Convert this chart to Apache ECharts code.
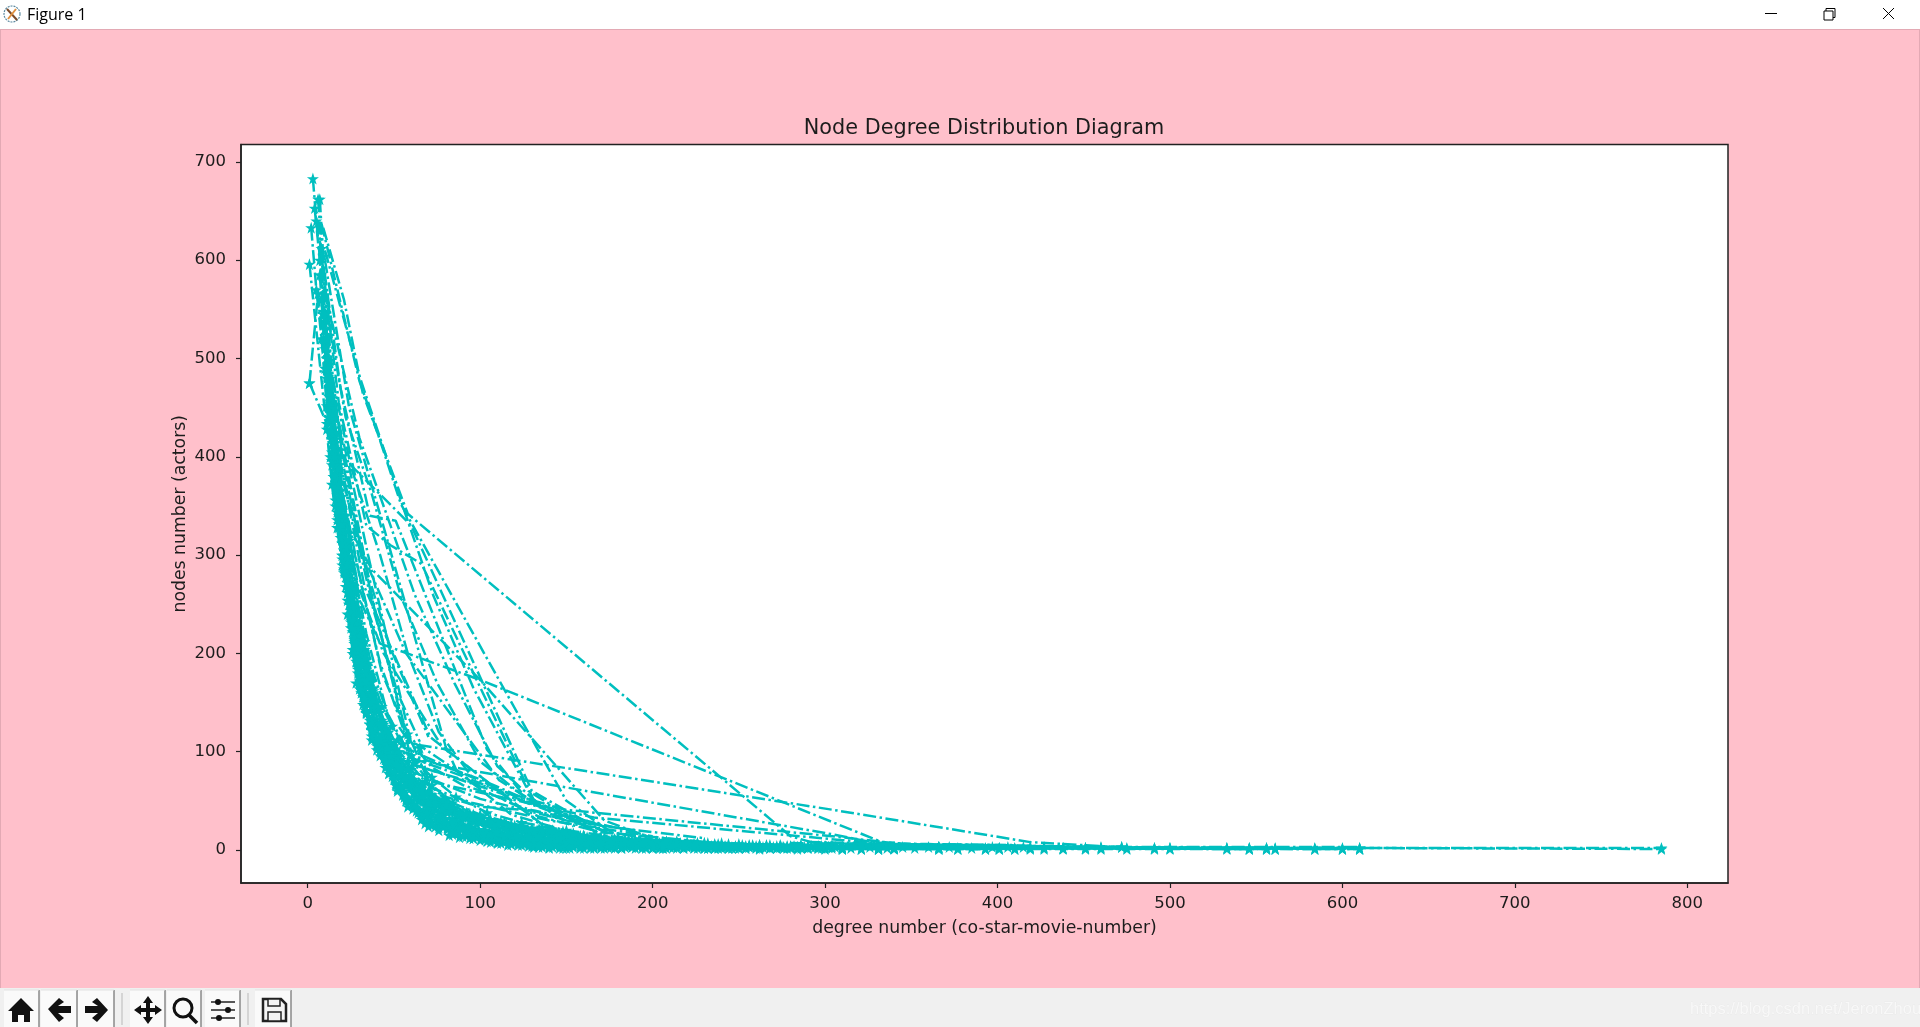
<!DOCTYPE html>
<html><head><meta charset="utf-8">
<style>html,body{margin:0;padding:0;background:#FFC0CB}#c{width:1920px;height:1027px}</style>
<script src="https://cdn.jsdelivr.net/npm/echarts@6/dist/echarts.min.js"></script>
</head><body><div id="c"></div>
<script>
const chartTitle = "Node Degree Distribution Diagram";
const xName = "degree number (co-star-movie-number)";
const yName = "nodes number (actors)";
const xTicks = [0,100,200,300,400,500,600,700,800];
const yTicks = [0,100,200,300,400,500,600,700];

// runs drawn with star markers
const r01=[[3,683],[5,640],[8,585],[11,500],[13,445],[15,398],[18,352],[20,318],[23,276],[26,238],[28,205],[32,172],[34,150],[38,122],[42,101],[47,82],[53,62],[59,49],[67,36],[76,27],[85,20],[98,15],[112,10],[128,7],[146,5],[170,4],[196,3],[230,2],[268,2],[310,1],[366,1]];
const r02=[[1,475],[6,566],[12,462],[14,405],[18,340],[21,282],[25,240],[28,196],[32,165],[36,128],[40,106],[46,86],[51,66],[57,52],[64,38],[72,28],[81,21],[92,14],[106,11],[121,8],[140,5],[162,4],[188,3],[218,3],[250,2],[290,2],[331,1]];
const r03=[[1,475],[11,434],[13,400],[16,356],[20,300],[23,262],[27,216],[30,178],[33,146],[38,118],[42,100],[47,78],[52,60],[58,44],[66,31],[74,24],[84,18],[96,12],[110,8],[126,6],[148,4],[174,3],[204,2],[240,2],[276,2],[321,1]];
const r04=[[1,596],[11,428],[14,372],[17,328],[20,290],[24,250],[27,212],[31,180],[35,150],[40,122],[45,98],[50,78],[56,60],[63,44],[71,33],[81,24],[93,17],[105,12],[119,9],[136,6],[154,5],[178,3],[210,3],[246,2],[300,1]];
const r05=[[2,633],[5,570],[8,520],[11,452],[14,396],[17,344],[21,300],[24,262],[28,224],[32,188],[36,156],[40,130],[45,106],[51,85],[57,66],[64,50],[72,38],[81,28],[92,21],[104,16],[118,11],[134,8],[152,6],[176,4],[204,3],[238,2],[284,1],[340,2],[393,1]];
const r06=[[6,662],[8,612],[10,565],[13,498],[15,440],[18,388],[21,336],[25,288],[29,242],[33,204],[37,172],[42,140],[47,112],[53,90],[59,70],[66,54],[74,41],[84,31],[95,23],[108,17],[122,12],[138,9],[158,6],[182,4],[212,3],[254,2],[310,2],[401,1]];
const r07=[[7,662],[9,604],[11,540],[13,474],[16,418],[19,366],[22,316],[26,272],[30,230],[34,194],[38,160],[43,132],[48,108],[54,84],[60,66],[68,50],[77,38],[87,28],[99,20],[112,15],[128,10],[144,7],[166,5],[192,4],[224,3],[262,2],[331,1],[410,1]];
const r08=[[4,653],[7,600],[9,548],[12,482],[14,424],[17,372],[20,322],[23,280],[27,236],[31,198],[35,166],[39,140],[44,114],[50,90],[56,72],[63,54],[70,42],[79,32],[90,24],[102,18],[115,13],[131,9],[150,7],[172,5],[200,3],[232,2],[272,2],[377,1],[472,3]];
const r17=[[7,585],[10,510],[13,450],[17,395],[21,340],[24,296],[27,250],[31,200],[36,150],[42,112],[50,90],[60,64],[72,46],[89,32],[110,22],[134,14],[160,10],[190,7],[230,5],[290,3],[366,2]];
const r18=[[10,545],[13,480],[16,425],[20,360],[24,315],[28,262],[33,212],[38,164],[44,128],[52,96],[61,72],[72,52],[85,38],[100,28],[118,19],[140,12],[165,8],[196,6],[244,4],[310,2]];
const r19=[[11,520],[14,460],[18,400],[22,340],[26,290],[30,240],[35,190],[40,150],[46,118],[54,92],[64,68],[76,48],[90,33],[108,24],[130,16],[154,11],[180,7],[220,5],[275,3],[340,2]];
const r20=[[9,545],[12,476],[15,410],[19,350],[23,298],[27,252],[32,212],[37,178],[43,146],[49,126],[55,108],[62,88],[72,66],[84,48],[100,36],[125,24],[150,16],[180,9],[220,5],[280,3],[340,2],[546,1]];
const r21=[[10,530],[13,452],[16,392],[20,332],[24,276],[28,232],[33,194],[38,162],[44,130],[50,106],[58,90],[68,70],[80,52],[96,36],[115,27],[140,19],[170,12],[206,7],[256,4],[331,2],[556,1]];
const r22=[[8,560],[11,480],[14,418],[18,358],[21,305],[25,258],[29,216],[34,180],[39,150],[45,122],[52,100],[60,82],[70,60],[82,44],[100,31],[120,25],[148,16],[176,10],[214,6],[266,4],[340,2],[419,3],[561,1]];
const r23=[[12,490],[15,420],[18,362],[22,308],[25,262],[30,218],[34,184],[39,152],[45,124],[51,98],[58,82],[66,64],[76,48],[90,37],[108,28],[130,20],[158,14],[190,9],[236,5],[290,3],[366,3],[438,2],[584,1]];
const r24=[[9,520],[12,440],[15,380],[18,332],[22,282],[26,240],[30,204],[35,170],[40,142],[46,116],[52,94],[60,76],[70,58],[84,42],[100,32],[122,22],[150,15],[186,10],[226,7],[278,4],[340,3],[451,2],[600,1]];
const r25=[[13,470],[16,400],[19,345],[23,292],[27,246],[31,208],[36,176],[41,146],[47,120],[53,100],[60,96],[72,74],[86,54],[104,38],[124,28],[150,20],[180,13],[214,9],[266,5],[331,3],[419,2],[500,2],[610,1]];
const r26=[[10,490],[13,425],[16,368],[20,312],[24,268],[28,226],[32,190],[37,158],[42,128],[48,104],[54,84],[66,66],[78,50],[94,37],[112,27],[133,20],[158,14],[188,10],[230,7],[286,4],[340,3],[438,2],[533,2],[610,2],[785,1]];
const r27=[[12,450],[14,392],[17,336],[21,286],[25,244],[29,206],[33,172],[38,144],[43,118],[49,96],[55,78],[62,66],[74,52],[92,38],[114,28],[140,20],[166,14],[196,10],[240,7],[300,4],[366,3],[451,2],[546,2]];
const r28=[[15,380],[19,325],[23,272],[27,226],[31,190],[34,158],[38,134],[43,110],[49,88],[55,72],[62,60],[70,50],[81,40],[96,32],[116,24],[138,18],[162,13],[190,9],[226,6],[274,4],[331,2],[401,2],[460,3],[556,2]];
const r29=[[16,350],[20,296],[24,250],[27,214],[30,176],[34,142],[38,120],[43,98],[48,80],[54,64],[60,50],[67,40],[76,33],[88,26],[103,20],[120,15],[142,11],[168,8],[196,6],[234,4],[280,3],[340,2],[427,3],[491,2]];
const r30=[[18,328],[21,284],[25,234],[29,190],[31,160],[34,139],[37,112],[44,93],[49,75],[56,54],[61,42],[68,27],[76,23],[85,17],[95,14],[103,11],[118,6],[131,3],[140,2],[150,2],[166,2],[182,2],[200,2]];
const r31=[[19,318],[22,268],[26,222],[29,184],[33,150],[37,122],[40,102],[45,84],[51,68],[55,56],[61,46],[68,35],[75,30],[83,24],[92,18],[102,14],[112,10],[122,7],[134,5],[148,4],[164,3],[182,3],[206,2],[236,2],[262,1]];
const r32=[[20,300],[23,254],[27,210],[30,172],[34,140],[37,116],[42,96],[47,78],[52,62],[57,50],[63,40],[70,33],[78,26],[87,21],[96,16],[107,13],[117,9],[130,7],[143,5],[158,4],[176,3],[196,3],[218,2],[244,2],[284,2]];
const r33=[[20,312],[23,262],[26,226],[29,180],[32,156],[36,128],[40,108],[46,90],[50,72],[56,58],[62,46],[69,38],[76,31],[85,25],[94,20],[104,16],[114,12],[125,9],[137,7],[151,6],[167,5],[185,4],[205,3],[227,3],[254,3],[296,2]];
const r34=[[22,278],[25,232],[28,192],[32,158],[36,132],[40,112],[45,94],[50,80],[56,66],[62,54],[69,44],[76,36],[84,30],[93,25],[102,20],[112,17],[123,13],[135,11],[148,8],[162,7],[178,5],[194,4],[214,4],[236,3],[262,3],[300,3]];
const r35=[[23,240],[26,204],[30,168],[34,142],[38,120],[43,104],[48,90],[54,76],[60,66],[66,55],[73,46],[81,38],[89,32],[98,27],[108,22],[119,18],[130,15],[142,12],[155,10],[168,8],[183,7],[199,6],[216,5],[240,4],[268,3],[310,3]];
const r36=[[25,226],[29,186],[33,154],[37,130],[41,114],[46,100],[51,88],[57,74],[64,60],[71,48],[78,42],[86,36],[95,30],[104,26],[114,22],[125,19],[136,16],[148,13],[160,11],[174,10],[188,9],[204,7],[224,6],[252,5],[290,4],[331,3]];
const r37=[[26,200],[30,164],[34,140],[38,122],[43,108],[48,96],[53,84],[60,70],[67,58],[74,48],[82,40],[90,34],[99,29],[108,25],[118,22],[128,19],[140,16],[152,14],[165,12],[178,11],[192,10],[208,8],[230,7],[258,5],[296,4],[340,3]];
const r38=[[28,170],[32,148],[36,128],[41,112],[46,104],[52,112],[58,118],[65,104],[72,56],[80,46],[88,38],[96,33],[106,28],[116,24],[126,21],[136,18],[146,16],[158,14],[170,12],[184,10],[198,8],[216,7],[236,6],[262,5],[304,4],[366,3]];
const t01=[[82,15],[88,13],[94,12],[100,10],[106,8],[112,7],[118,6],[124,5],[130,4],[136,3],[142,3],[148,2],[154,3],[160,2],[166,3],[172,2],[178,2],[184,3],[190,2],[196,2],[202,3],[208,2],[214,2],[220,3],[226,2],[232,2],[238,3],[244,2],[250,2],[256,3],[262,2],[268,2],[274,3],[280,2],[286,2],[292,3],[298,2],[304,2],[310,1],[321,1],[331,1],[340,1],[366,1],[377,1],[393,1],[401,1],[410,1],[419,1],[427,1],[438,1],[451,1],[460,1],[475,1],[491,1],[500,1],[533,1],[546,1],[556,1],[561,1],[584,1],[600,1],[610,1]];
const t02=[[90,22],[96,20],[102,17],[108,15],[114,14],[120,12],[126,11],[132,10],[138,9],[144,8],[150,7],[156,7],[162,6],[168,6],[174,5],[180,5],[186,5],[192,4],[198,5],[204,4],[210,4],[216,4],[222,4],[228,4],[234,3],[240,4],[246,3],[252,3],[258,4],[264,3],[270,3],[276,3],[282,4],[288,3],[294,3],[300,3],[310,2],[321,2],[331,2],[340,2],[366,2],[377,2],[393,2],[401,2],[410,2],[419,2],[427,2],[438,2],[451,2],[460,2],[472,3],[475,2],[491,2],[500,2],[533,2],[546,2],[556,2],[561,2],[584,2],[600,2],[610,2],[785,2]];
const t03=[[100,34],[106,31],[112,28],[118,26],[124,24],[130,22],[136,23],[142,20],[148,19],[154,17],[160,15],[166,14],[172,13],[178,11],[184,11],[190,10],[196,9],[202,9],[208,9],[214,8],[220,8],[226,7],[232,7],[238,6],[244,6],[250,6],[256,5],[262,5],[268,5],[274,5],[280,4],[286,5],[292,4],[298,4],[304,4],[310,3]];
const t04=[[70,24],[76,20],[84,16],[90,14],[96,12],[104,9],[110,7],[116,5],[122,5],[128,4],[134,3],[140,3],[146,2],[152,2],[158,2],[164,2],[170,2],[176,3],[182,2],[188,3],[194,2],[200,2],[206,2],[212,3],[218,2],[224,2],[230,2],[236,2],[242,3],[248,2],[254,2],[260,2],[266,3],[272,2],[278,2],[284,3],[290,2],[296,2],[302,3]];
const t05=[[110,18],[116,16],[122,15],[128,13],[134,13],[140,11],[146,11],[152,10],[158,9],[164,8],[170,8],[176,7],[182,7],[188,6],[194,6],[200,6],[206,5],[212,5],[218,5],[224,5],[230,4],[236,4],[242,4],[248,4],[254,4],[260,4],[266,4],[272,4],[278,3],[284,3],[290,3],[296,3],[302,3]];
const t06=[[306,3],[315,2],[326,3],[336,2],[345,3],[352,2],[360,3],[372,3],[385,2],[397,3],[406,3],[415,3]];

// runs whose points are far apart: no star shows along them in the picture
const b01=[[9,633],[21,560],[32,464],[58,342],[280,14],[296,6],[340,3]];
const b02=[[8,637],[30,477],[40,427],[54,352],[150,50],[176,18],[208,8]];
const b03=[[10,600],[24,450],[43,335],[80,105],[86,82],[118,36],[170,9]];
const b04=[[8,610],[19,470],[36,340],[51,335],[104,102],[126,54],[168,18]];
const b05=[[7,620],[18,455],[34,330],[48,310],[66,291],[131,51],[172,14]];
const b06=[[6,640],[14,490],[20,400],[43,360],[60,330],[130,60],[174,16]];
const b07=[[8,590],[18,380],[24,328],[37,286],[100,173],[172,30],[200,12]];
const b08=[[9,570],[19,372],[30,255],[42,210],[100,173],[333,8],[370,3]];
const b09=[[14,440],[33,267],[71,115],[134,28]];
const b10=[[16,400],[29,270],[44,200],[78,105],[136,26]];
const b11=[[15,420],[32,300],[57,200],[111,71],[154,24]];
const b12=[[12,480],[24,390],[35,300],[60,108],[304,41],[419,8],[470,3]];
const b13=[[14,470],[26,360],[37,260],[60,92],[126,71],[304,16],[330,7]];
const b14=[[13,455],[28,330],[40,235],[62,86],[149,41],[304,14],[340,7]];
const b15=[[15,395],[30,280],[43,180],[70,70],[166,33],[310,10],[350,5]];
const b16=[[10,610],[30,482],[57,340],[73,258],[96,165],[128,60],[160,25]];
const b17=[[11,560],[30,419],[46,340],[62,260],[85,170],[110,85],[135,45]];
const b18=[[12,540],[22,440],[37,363],[54,258],[75,170],[100,90],[125,55]];
const b19=[[12,500],[25,390],[42,300],[58,200],[76,120],[95,75]];
const b20=[[13,470],[24,370],[35,280],[48,205],[70,115]];
const b21=[[14,420],[27,330],[38,245],[52,160],[65,110]];
const b22=[[16,380],[22,350],[31,270],[42,190],[56,120]];
const b23=[[17,360],[25,300],[34,220],[46,140],[58,100]];
const b24=[[18,340],[29,250],[38,180],[50,120]];
const b25=[[19,300],[30,220],[42,140],[52,105]];
const b26=[[55,105],[129,48],[158,32]];
const b27=[[55,100],[100,72],[135,45],[170,25]];
const b28=[[58,95],[90,75],[125,50],[150,34]];
const b29=[[60,88],[108,60],[146,36],[190,18]];
const b30=[[60,80],[100,52],[150,30],[190,20]];
const b31=[[58,72],[95,48],[140,30],[200,14]];
const b32=[[53,125],[58,112],[66,105],[82,86],[100,62],[120,46],[142,34],[178,17],[224,9]];
const b33=[[56,118],[72,84],[90,66],[108,56],[134,34],[170,18],[232,8]];
const b34=[[64,62],[100,44],[132,40],[172,24],[230,12]];
const b35=[[300,6],[420,3],[470,2]];
const b36=[[300,5],[400,4],[470,3],[533,2]];
const b37=[[300,4],[420,4],[500,2]];
const b38=[[300,3],[420,2],[610,2]];
const b39=[[340,3],[610,3]];
const b40=[[366,5],[430,3],[560,2]];
const b41=[[290,8],[360,6],[420,4]];
const b42=[[300,7],[380,5],[440,3]];
const b43=[[320,6],[400,5],[450,3]];
const b44=[[280,7],[340,6],[410,5]];

const starRuns = [r01,r02,r03,r04,r05,r06,r07,r08,r17,r18,r19,r20,r21,r22,r23,r24,r25,r26,r27,r28,r29,r30,r31,r32,r33,r34,r35,r36,r37,r38,t01,t02,t03,t04,t05,t06];
const bareRuns = [b01,b02,b03,b04,b05,b06,b07,b08,b09,b10,b11,b12,b13,b14,b15,b16,b17,b18,b19,b20,b21,b22,b23,b24,b25,b26,b27,b28,b29,b30,b31,b32,b33,b34,b35,b36,b37,b38,b39,b40,b41,b42,b43,b44];

const teal = '#00BFBF';
const star = 'path://M50,0 L61.8,36 L98,36 L69,58 L80,95 L50,72 L20,95 L31,58 L2,36 L38.2,36 Z';
const ink = '#1c1c1c';
const mono = '"DejaVu Sans"';
const dash = [13,3.5,2.5,3.5];

function btn(x,w){return [
  {type:'rect',shape:{x:x,y:990,width:w,height:37},style:{fill:'#FAFAFA',stroke:null}},
  {type:'polyline',shape:{points:[[x+w,990],[x+w,1027]]},style:{stroke:'#8a8a8a',lineWidth:1.5}},
  {type:'polyline',shape:{points:[[x,990],[x+w,990]]},style:{stroke:'#e2e2e2',lineWidth:1}}
];}
const chrome = [
  {type:'rect',shape:{x:0,y:0,width:1920,height:29},style:{fill:'#FFFFFF'}},
  {type:'rect',shape:{x:0,y:29,width:1920,height:1},style:{fill:'#E3A9B4'}},
  {type:'rect',shape:{x:1919,y:30,width:1,height:958},style:{fill:'#E3A9B4'}},
  {type:'rect',shape:{x:0,y:30,width:1,height:958},style:{fill:'#E3A9B4'}},
  {type:'circle',shape:{cx:12,cy:14,r:8},style:{fill:'#FFFFFF',stroke:'#5d8aa0',lineWidth:1.2,lineDash:[2,1]}},
  {type:'polyline',shape:{points:[[7,9],[17,20]]},style:{stroke:'#7a4a2a',lineWidth:2}},
  {type:'polyline',shape:{points:[[16,9],[8,19]]},style:{stroke:'#e09040',lineWidth:2}},
  {type:'text',style:{x:27,y:15,text:'Figure 1',font:'16px "Open Sans"',fill:'#000',textVerticalAlign:'middle'}},
  {type:'polyline',shape:{points:[[1765,13.5],[1777,13.5]]},style:{stroke:'#000',lineWidth:1}},
  {type:'rect',shape:{x:1824,y:11,width:9,height:9},style:{fill:'#fff',stroke:'#000',lineWidth:1}},
  {type:'polyline',shape:{points:[[1826,11],[1826,8.5],[1835,8.5],[1835,17.5],[1833,17.5]]},style:{stroke:'#000',lineWidth:1}},
  {type:'polyline',shape:{points:[[1883,8],[1894,19]]},style:{stroke:'#000',lineWidth:1}},
  {type:'polyline',shape:{points:[[1894,8],[1883,19]]},style:{stroke:'#000',lineWidth:1}},
  {type:'rect',shape:{x:0,y:988,width:1920,height:39},style:{fill:'#F0F0F0'}},
  ...btn(4,35),...btn(41,36),...btn(78,36),...btn(130,35),...btn(167,34),...btn(205,35),...btn(255,36),
  {type:'rect',shape:{x:121,y:993,width:2,height:32},style:{fill:'#d4d4d4'}},
  {type:'rect',shape:{x:247,y:993,width:2,height:32},style:{fill:'#d4d4d4'}},
  {type:'polygon',shape:{points:[[21,998],[34,1011],[30,1011],[30,1022],[24,1022],[24,1015],[18,1015],[18,1022],[12,1022],[12,1011],[8,1011]]},style:{fill:'#111'}},
  {type:'polygon',shape:{points:[[48,1009],[59,998],[64,1002],[58,1006],[71,1006],[71,1013],[58,1013],[64,1018],[59,1022]]},style:{fill:'#111'}},
  {type:'polygon',shape:{points:[[108,1010],[97,998],[92,1002],[98,1006],[85,1006],[85,1013],[98,1013],[92,1018],[97,1022]]},style:{fill:'#111'}},
  {type:'polygon',shape:{points:[[148,996],[153,1003],[150,1003],[150,1008],[155,1008],[155,1005],[162,1010],[155,1015],[155,1012],[150,1012],[150,1017],[153,1017],[148,1024],[143,1017],[146,1017],[146,1012],[141,1012],[141,1015],[134,1010],[141,1005],[141,1008],[146,1008],[146,1003],[143,1003]]},style:{fill:'#111'}},
  {type:'circle',shape:{cx:183,cy:1008,r:9},style:{fill:'none',stroke:'#111',lineWidth:3}},
  {type:'polyline',shape:{points:[[189,1015],[197,1023]]},style:{stroke:'#111',lineWidth:3.5}},
  {type:'polyline',shape:{points:[[211,1002],[235,1002]]},style:{stroke:'#222',lineWidth:1.5}},
  {type:'polyline',shape:{points:[[211,1010],[235,1010]]},style:{stroke:'#222',lineWidth:1.5}},
  {type:'polyline',shape:{points:[[211,1018],[235,1018]]},style:{stroke:'#222',lineWidth:1.5}},
  {type:'circle',shape:{cx:218,cy:1002,r:3},style:{fill:'#111'}},
  {type:'circle',shape:{cx:228,cy:1010,r:3},style:{fill:'#111'}},
  {type:'circle',shape:{cx:219,cy:1018,r:3},style:{fill:'#111'}},
  {type:'polygon',shape:{points:[[263,999],[281,999],[286,1004],[286,1021],[263,1021]]},style:{fill:'#F4F4F4',stroke:'#222',lineWidth:2.5}},
  {type:'rect',shape:{x:268,y:999,width:12,height:7},style:{fill:'#F4F4F4',stroke:'#222',lineWidth:1.5}},
  {type:'rect',shape:{x:268,y:1012,width:13,height:9},style:{fill:'#F4F4F4',stroke:'#222',lineWidth:1.5}},
  {type:'text',style:{x:1690,y:1009,text:'https://blog.csdn.net/JeronZhou',font:'16.5px "Liberation Sans"',fill:'#F8F8F8',stroke:'#E6E6E6',lineWidth:0.4,textVerticalAlign:'middle'}}
];

function lineSeries(d,marked){return {type:'line',data:d,symbol:marked?star:'none',symbolSize:12,showSymbol:marked,silent:true,
  itemStyle:{color:teal},lineStyle:{color:teal,width:2.5,type:dash}};}

const chart = echarts.init(document.getElementById('c'), null, {renderer:'canvas'});
chart.setOption({
  animation:false,
  backgroundColor:'#FFC0CB',
  title:{text:chartTitle,left:979,top:113.5,textAlign:'center',textStyle:{fontFamily:mono,fontSize:20.8,fontWeight:'normal',color:ink}},
  grid:{left:241,top:144.5,right:192,bottom:144,show:true,backgroundColor:'#FFFFFF',borderColor:'#222',borderWidth:1.5,containLabel:false},
  xAxis:{type:'value',min:-38.7,max:823.6,name:xName,nameLocation:'middle',nameGap:37,nameMoveOverlap:false,
    nameTextStyle:{fontFamily:mono,fontSize:17.3,color:ink},
    axisLine:{show:true,onZero:false,lineStyle:{color:'#222',width:1.5}},
    axisTick:{show:true,length:5,inside:false,customValues:xTicks,lineStyle:{color:'#222',width:1.2}},
    axisLabel:{customValues:xTicks,fontFamily:mono,fontSize:16.5,color:ink,margin:12},
    splitLine:{show:false}},
  yAxis:{type:'value',min:-33.6,max:717.7,name:yName,nameLocation:'middle',nameGap:52,nameRotate:90,nameMoveOverlap:false,
    nameTextStyle:{fontFamily:mono,fontSize:17.3,color:ink},
    axisLine:{show:true,onZero:false,lineStyle:{color:'#222',width:1.5}},
    axisTick:{show:true,length:5,inside:false,customValues:yTicks,lineStyle:{color:'#222',width:1.2}},
    axisLabel:{customValues:yTicks,fontFamily:mono,fontSize:16.5,color:ink,margin:15},
    splitLine:{show:false}},
  series:bareRuns.map(function(d){return lineSeries(d,false);}).concat(starRuns.map(function(d){return lineSeries(d,true);})),
  graphic:{elements:chrome}
});
</script></body></html>
